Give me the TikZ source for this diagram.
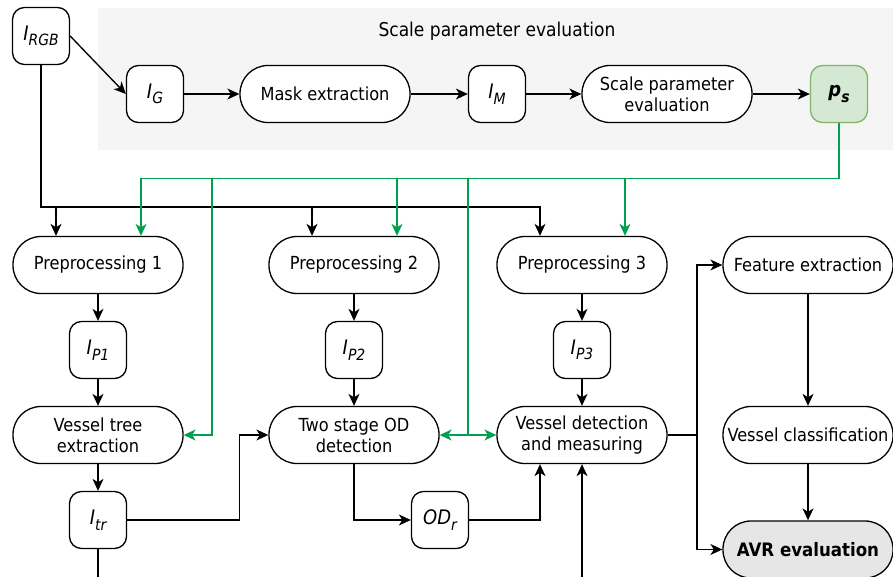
\documentclass[tikz,border=0pt]{standalone}
\usepackage{fontspec}
\setmainfont{DejaVu Sans Condensed}
\usetikzlibrary{arrows.meta}
\definecolor{gline}{HTML}{00A050}
\definecolor{psfill}{HTML}{D5E8D4}
\definecolor{psdraw}{HTML}{82B366}
\definecolor{panel}{HTML}{F5F5F5}
\definecolor{avrfill}{HTML}{E6E6E6}
\newcommand\lblsub[2]{#1\raisebox{-0.5ex}{\fontsize{15.5}{16}\selectfont #2}}
\tikzset{
  proc/.style={draw, line width=1.3pt, rounded corners=28pt, minimum width=170pt, minimum height=57pt, align=center, fill=white, inner sep=2pt, font=\fontsize{18}{21}\selectfont},
  data/.style={draw, line width=1.3pt, rounded corners=12pt, minimum width=57pt, minimum height=57pt, fill=white, inner sep=1pt, font=\fontsize{20}{22}\selectfont\itshape},
  arr/.style={line width=1.35pt, -{Stealth[length=12pt,width=11pt,inset=3.5pt]}},
  ln/.style={line width=1.35pt},
  garr/.style={gline, line width=1.2pt, -{Stealth[length=12pt,width=11pt,inset=3.5pt]}},
  gln/.style={gline, line width=1.2pt},
}
\begin{document}
\begin{tikzpicture}[x=1pt,y=-1pt]
\useasboundingbox (0,0) rectangle (893,577);
\fill[panel] (98,8) rectangle (893,150);
\node[font=\fontsize{19}{22}\selectfont] (title) at (497,31) {Scale parameter evaluation};

% top row
\node[data] (rgb) at (41,36) {\lblsub{I}{RGB}};
\node[data] (ig) at (155,94) {\lblsub{I}{G}};
\node[proc] (mask) at (325,94) {Mask extraction};
\node[data] (im) at (497,94) {\lblsub{I}{M}};
\node[proc] (spe) at (667,94) {Scale parameter\\evaluation};
\node[data, draw=psdraw, fill=psfill, font=\fontsize{20}{22}\selectfont\bfseries\itshape] (ps) at (839,94) {\lblsub{p}{s}};

% second row
\node[proc] (pp1) at (98,265) {Preprocessing 1};
\node[proc] (pp2) at (354,265) {Preprocessing 2};
\node[proc] (pp3) at (582,265) {Preprocessing 3};
\node[proc] (fe) at (808,265) {Feature extraction};

% third row
\node[data] (ip1) at (98,350) {\lblsub{I}{P1}};
\node[data] (ip2) at (354,350) {\lblsub{I}{P2}};
\node[data] (ip3) at (582,350) {\lblsub{I}{P3}};

% fourth row
\node[proc] (vt) at (98,435) {Vessel tree\\extraction};
\node[proc] (od) at (354,435) {Two stage OD\\detection};
\node[proc] (vd) at (582,435) {Vessel detection\\and measuring};
\node[proc] (vc) at (808,435) {Vessel classification};

% fifth row
\node[data] (itr) at (98,520) {\lblsub{I}{tr}};
\node[data] (odr) at (440,520) {\lblsub{OD}{r}};
\node[proc, fill=avrfill, font=\fontsize{18.5}{21}\selectfont\bfseries] (avr) at (808,549.5) {AVR evaluation};

% top row connectors
\draw[arr] (rgb.east) -- (ig.west);
\draw[arr] (ig) -- (mask);
\draw[arr] (mask) -- (im);
\draw[arr] (im) -- (spe);
\draw[arr] (spe) -- (ps);

% black bus from I_RGB
\draw[arr] (rgb.south) |- ([xshift=-42pt,yshift=29pt]pp3.north) -- ([xshift=-42pt]pp3.north);
\draw[arr] ([xshift=-42pt,yshift=29pt]pp1.north) -- ([xshift=-42pt]pp1.north);
\draw[arr] ([xshift=-42pt,yshift=29pt]pp2.north) -- ([xshift=-42pt]pp2.north);

% green bus from p_s
\coordinate (g1) at (212,179);
\coordinate (g2) at (468,179);
\draw[garr] (ps.south) |- ([xshift=43pt,yshift=57pt]pp1.north) -- ([xshift=43pt]pp1.north);
\draw[garr] ([xshift=43pt,yshift=57pt]pp2.north) -- ([xshift=43pt]pp2.north);
\draw[garr] ([xshift=43pt,yshift=57pt]pp3.north) -- ([xshift=43pt]pp3.north);
\draw[garr] (g1) |- (vt.east);
\draw[garr] (g2) |- (od.east);
\draw[garr] (g2) |- (vd.west);

% columns
\draw[arr] (pp1) -- (ip1);
\draw[arr] (ip1) -- (vt);
\draw[arr] (vt) -- (itr);
\draw[arr] (pp2) -- (ip2);
\draw[arr] (ip2) -- (od);
\draw[arr] (pp3) -- (ip3);
\draw[arr] (ip3) -- (vd);

% lower connectors
\draw[ln] (itr.south) -- (itr.south |- 0,577);
\draw[arr] (itr.east) -| ([xshift=-29pt]od.west) -- (od.west);
\draw[arr] (od.south) |- (odr.west);
\draw[arr] (odr.east) -| ([xshift=-42pt]vd.south);
\draw[arr] (vd.south |- 0,577) -- (vd.south);

% right side
\coordinate (j) at (697,435);
\draw[ln] (vd.east) -- (j);
\draw[arr] (j) |- (fe.west);
\draw[arr] (j) |- (avr.west);
\draw[arr] (fe) -- (vc);
\draw[arr] (vc) -- (avr);
\end{tikzpicture}
\end{document}
